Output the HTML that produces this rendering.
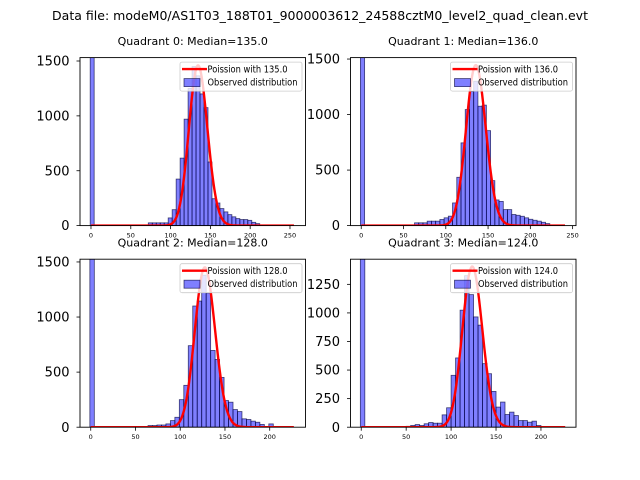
<!DOCTYPE html>
<html><head><meta charset="utf-8"><style>
html,body{margin:0;padding:0;background:#fff}
svg{display:block;font-family:"DejaVu Sans","Liberation Sans",sans-serif}
</style></head><body>
<svg id="fig" width="640" height="480" viewBox="0 0 640 480" xmlns="http://www.w3.org/2000/svg">
<rect width="640" height="480" fill="#fff"/>
<text x="320" y="20" font-size="12.5" text-anchor="middle" textLength="536">Data file: modeM0/AS1T03_188T01_9000003612_24588cztM0_level2_quad_clean.evt</text>
</svg>
<script>
// ---- data ----
const titles = ["Quadrant 0: Median=135.0","Quadrant 1: Median=136.0","Quadrant 2: Median=128.0","Quadrant 3: Median=124.0"];
const lambdas = [135.0,136.0,128.0,124.0];
const curvePeaks = [1460,1445,1450,1405];
const curveEnds = [255,241,227,227];
const zeroBinCounts = [3000,3000,3000,3000];
const binStarts = [72,63,64,50];
const binWidth = 5;
const q0Counts = [25,25,25,25,25,70,145,424,615,970,1250,1450,1365,1200,1075,580,245,206,155,125,100,80,64,55,55,48,30,18];
const q1Counts = [25,25,25,40,40,40,55,70,85,204,435,745,1045,1208,1300,1075,1085,855,405,231,218,144,144,100,93,84,70,57,48,40,30,18];
const q2Counts = [15,15,20,20,30,60,90,250,380,740,1100,1145,1380,1218,697,615,452,242,227,160,142,76,70,55,45,25,0,30];
const q3Counts = [8,15,23,15,30,41,35,35,108,170,454,606,1024,1326,1160,965,893,556,468,313,176,220,111,132,102,58,58,44,53,15];
const xMins = [-13.8,-0.05*254,-0.05*240,-0.05*239];
const xMaxs = [269.5,254,240,239];
const yMaxs = [1531,1513,1525,1470];
const xTicks = [[0,50,100,150,200,250],[0,50,100,150,200,250],[0,50,100,150,200],[0,50,100,150,200]];
const yTicks = [[0,500,1000,1500],[0,500,1000,1500],[0,500,1000,1500],[0,250,500,750,1000,1250]];
const allCounts = [q0Counts,q1Counts,q2Counts,q3Counts];

// ---- layout ----
const NS="http://www.w3.org/2000/svg";
const fig=document.getElementById('fig');
const boxes=[[80,57.6,305.5,225.6],[350.5,57.6,576,225.6],[80,259.2,305.5,427.2],[350.5,259.2,576,427.2]];
function mk(tag,attrs,parent){const e=document.createElementNS(NS,tag);for(const k in attrs)e.setAttribute(k,attrs[k]);(parent||fig).appendChild(e);return e;}
function logPois(k,lam){
  let lg=0;
  if(k>1){const n=k+1;lg=(n-0.5)*Math.log(n)-n+0.5*Math.log(2*Math.PI)+1/(12*n)-1/(360*n*n*n);}
  return k*Math.log(lam)-lam-lg;
}
for(let p=0;p<4;p++){
  const [L,T,R,B]=boxes[p];
  const g=mk('g',{});
  
  
  const sx=v=>L+(v-xMins[p])/(xMaxs[p]-xMins[p])*(R-L);
  const sy=v=>B-v/yMaxs[p]*(B-T);
  const clipId='clip'+p;
  const cp=mk('clipPath',{id:clipId},g);mk('rect',{x:L,y:T,width:R-L,height:B-T},cp);
  const plot=mk('g',{'clip-path':'url(#'+clipId+')'},g);
  const zb=mk('rect',{x:sx(-1),y:sy(zeroBinCounts[p]),width:sx(4)-sx(-1),height:B-sy(zeroBinCounts[p]),fill:'rgba(0,0,255,0.5)',stroke:'rgba(0,0,60,0.7)','stroke-width':0.8},plot);
  
  
  const counts=allCounts[p];
  counts.forEach((c,i)=>{
    if(c<=0)return;
    const x0=binStarts[p]+i*binWidth;
    const r=mk('rect',{x:sx(x0),y:sy(c),width:sx(x0+binWidth)-sx(x0),height:B-sy(c),fill:'rgba(0,0,255,0.5)',stroke:'rgba(0,0,60,0.7)','stroke-width':0.8},plot);
    
    
  });
  const lam=lambdas[p];const lpk=logPois(Math.floor(lam),lam);
  let d='';
  for(let k=0;k<=curveEnds[p];k++){
    const v=curvePeaks[p]*Math.exp(logPois(k,lam)-lpk);
    d+=(k?'L':'M')+sx(k).toFixed(2)+','+sy(v).toFixed(2);
  }
  const ln=mk('path',{d:d,fill:'none',stroke:'#ff0000','stroke-width':2.4,'stroke-linejoin':'round'},plot);
  
  
  const fr=mk('rect',{x:L,y:T,width:R-L,height:B-T,fill:'none',stroke:'#000','stroke-width':0.9},g);
  
  
  xTicks[p].forEach(t=>{
    const x=sx(t);
    mk('line',{x1:x,y1:B,x2:x,y2:B+3.5,stroke:'#000','stroke-width':0.8},g);
    const tx=mk('text',{x:x,y:B+12,'font-size':6.5,'text-anchor':'middle'},g);tx.textContent=t;
    
    
  });
  yTicks[p].forEach(t=>{
    const y=sy(t);
    mk('line',{x1:L-3.5,y1:y,x2:L,y2:y,stroke:'#000','stroke-width':0.8},g);
    const tx=mk('text',{x:L-10.5,y:y+4.6,'font-size':13,'text-anchor':'end'},g);tx.textContent=t;
    
    
  });
  const ti=mk('text',{x:(L+R)/2,y:T-12.5,'font-size':11,'text-anchor':'middle'},g);ti.textContent=titles[p];
  
  
  const lg=mk('g',{},g);
  
  
  const lx=R-125.5, ly=T+4.5;
  mk('rect',{x:lx,y:ly,width:122,height:29,rx:2,fill:'rgba(255,255,255,0.8)',stroke:'#ccc','stroke-width':0.8},lg);
  mk('line',{x1:lx+2,y1:ly+7,x2:lx+27,y2:ly+7,stroke:'#ff0000','stroke-width':2.4},lg);
  mk('rect',{x:lx+4,y:ly+16.5,width:16,height:8,fill:'rgba(0,0,255,0.5)',stroke:'rgba(0,0,60,0.7)','stroke-width':0.8},lg);
  const t1=mk('text',{x:lx+27.5,y:ly+10.5,'font-size':9.5,textLength:80,lengthAdjust:'spacingAndGlyphs'},lg);t1.textContent='Poission with '+lambdas[p].toFixed(1);
  
  
  const t2=mk('text',{x:lx+27.5,y:ly+23.5,'font-size':9.5,textLength:90,lengthAdjust:'spacingAndGlyphs'},lg);t2.textContent='Observed distribution';
  
  
}
</script>
</body></html>
